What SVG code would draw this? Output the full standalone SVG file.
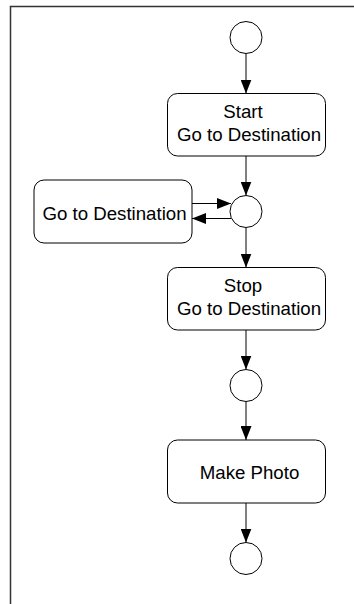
<svg xmlns="http://www.w3.org/2000/svg" width="354" height="604" viewBox="0 0 354 604">
<style>
.node{fill:#fff;stroke:#000;stroke-width:1}
.lbl{font-family:"Liberation Sans",Arial,sans-serif;font-size:18.67px;fill:#000;text-anchor:middle}
.conn{stroke:#000;stroke-width:1;fill:none}
</style>
<defs>
<marker id="ah" markerUnits="userSpaceOnUse" markerWidth="14" markerHeight="11" refX="14" refY="5.5" orient="auto">
<path d="M0,0 L14,5.5 L0,11 Z" fill="#000"/>
</marker>
</defs>
<rect x="0" y="0" width="354" height="604" fill="#fff"/>
<path d="M10.5,604 V6.5 H354" fill="none" stroke="#333" stroke-width="1.5"/>
<g id="connectors">
<line class="conn" x1="246" y1="53.5" x2="246" y2="93.5" marker-end="url(#ah)"/>
<line class="conn" x1="246" y1="156" x2="246" y2="195.5" marker-end="url(#ah)"/>
<line class="conn" x1="192" y1="203.5" x2="231" y2="203.5" marker-end="url(#ah)"/>
<line class="conn" x1="231" y1="218.5" x2="192" y2="218.5" marker-end="url(#ah)"/>
<line class="conn" x1="246" y1="227.5" x2="246" y2="267.5" marker-end="url(#ah)"/>
<line class="conn" x1="246" y1="330" x2="246" y2="369.5" marker-end="url(#ah)"/>
<line class="conn" x1="246" y1="401.5" x2="246" y2="440" marker-end="url(#ah)"/>
<line class="conn" x1="246" y1="503" x2="246" y2="542.5" marker-end="url(#ah)"/>
</g>
<g id="initial"><circle class="node" cx="246" cy="37.5" r="16"/></g>
<g id="startGo">
<rect class="node" x="167.5" y="93.5" width="158" height="62.5" rx="10"/>
<text class="lbl" x="243" y="117.5">Start</text>
<text class="lbl" x="249" y="141">Go to Destination</text>
</g>
<g id="fork1"><circle class="node" cx="246" cy="211.5" r="16"/></g>
<g id="goTo">
<rect class="node" x="34" y="180" width="158" height="63" rx="10"/>
<text class="lbl" x="114.5" y="220">Go to Destination</text>
</g>
<g id="stopGo">
<rect class="node" x="167.5" y="267.5" width="158" height="62.5" rx="10"/>
<text class="lbl" x="243" y="291.5">Stop</text>
<text class="lbl" x="249" y="315">Go to Destination</text>
</g>
<g id="fork2"><circle class="node" cx="246" cy="385.5" r="16"/></g>
<g id="makePhoto">
<rect class="node" x="167.5" y="440" width="158" height="63" rx="10"/>
<text class="lbl" x="249.5" y="479">Make Photo</text>
</g>
<g id="final"><circle class="node" cx="246" cy="558.5" r="16"/></g>
</svg>
